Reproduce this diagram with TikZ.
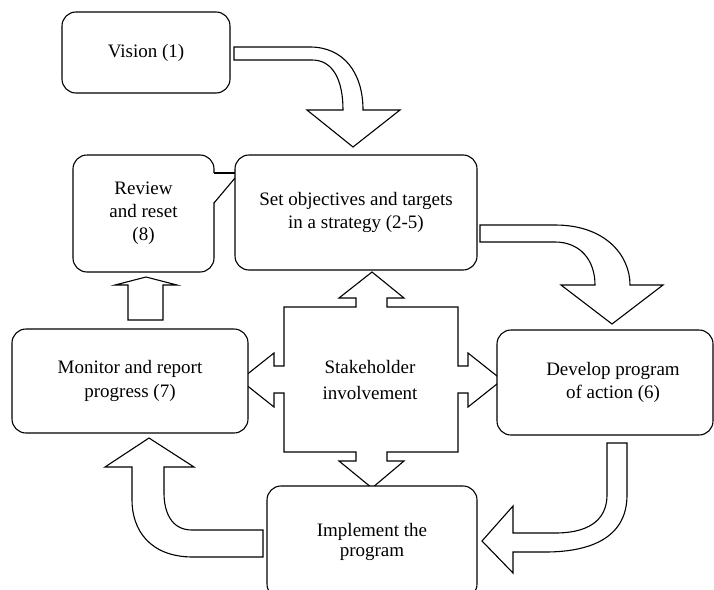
\documentclass[tikz,border=0pt]{standalone}
\usepackage{fontspec}
\setmainfont{Liberation Serif}
\begin{document}
\begin{tikzpicture}[x=1pt,y=-1pt,
  box/.style={draw,fill=white,rounded corners=14pt,line width=1.1pt,inner sep=0pt,align=center,font=\fontsize{19}{23}\selectfont},
  fat/.style={draw,fill=white,line width=1.1pt,line join=miter},
  lbl/.style={align=center,inner sep=0pt,font=\fontsize{19}{26}\selectfont}]
\useasboundingbox (0,0) rectangle (714,589);

% central cross
\draw[fat] (284,307) -- (356,307) -- (356,298) -- (339,298) -- (372,272) -- (404,298) -- (387,298) -- (387,307)
  -- (458,307) -- (458,366) -- (468,366) -- (468,353) -- (502,380) -- (468,407) -- (468,393) -- (458,393)
  -- (458,452) -- (387,452) -- (387,461) -- (404,461) -- (372,488) -- (339,461) -- (356,461) -- (356,452)
  -- (284,452) -- (284,393) -- (274,393) -- (274,407) -- (240,380) -- (274,353) -- (274,366) -- (284,366) -- cycle;
\node[lbl] (stake) at (370,380) {Stakeholder\\involvement};

% curved arrows
\draw[fat] (234,47) -- (310,47) .. controls (343,47) and (363,72) .. (363,110) -- (400,110) -- (353,147)
  -- (307,110) -- (343,110) .. controls (343,80) and (333,60) .. (312,60) -- (234,60) -- cycle;
\draw[fat] (480,225) -- (555,225) .. controls (605,225) and (630,255) .. (630,285) -- (663,285) -- (612,324)
  -- (561,285) -- (595,285) .. controls (595,260) and (580,242) .. (555,242) -- (480,242) -- cycle;
\draw[fat] (607,443) -- (627,443) -- (627,495) .. controls (627,535) and (595,552) .. (545,552) -- (513,552)
  -- (513,573) -- (482,541) -- (513,506) -- (513,533) -- (555,533) .. controls (595,533) and (607,515) .. (607,495) -- cycle;
\draw[fat] (263,530) -- (263,557) -- (193,557) .. controls (150,557) and (132,530) .. (132,500) -- (132,467)
  -- (105,467) -- (149,438) -- (194,467) -- (164,467) -- (164,493) .. controls (164,510) and (170,530) .. (192,530) -- cycle;
\draw[fat] (128,320) -- (128,285) -- (115,285) -- (146,277) -- (177,285) -- (163,285) -- (163,320) -- cycle;

% boxes
\node[box,minimum width=168pt,minimum height=81pt] (vision) at (146,52.5) {Vision (1)};
\node[box,minimum width=141pt,minimum height=117pt] (review) at (143.5,213.5) {Review\\and reset\\(8)};
\fill[white] (213,173) -- (235,173) -- (235,178) -- (213,203) -- cycle;
\draw[line width=1.1pt] (214,173) -- (235,173);
\draw[line width=1.1pt] (235,178) -- (214,203);
\node[box,minimum width=242pt,minimum height=115pt] (set) at (356,212.5) {Set objectives and targets\\in a strategy (2-5)};
\node[box,minimum width=236pt,minimum height=104pt,font=\fontsize{19}{24}\selectfont] (monitor) at (130,381) {Monitor and report\\progress (7)};
\node[box,minimum width=216pt,minimum height=105pt] (develop) at (605,382.5) {\hspace*{16pt}Develop program\\\hspace*{16pt}of action (6)};
\node[box,minimum width=210pt,minimum height=112pt,font=\fontsize{19}{20}\selectfont] (implement) at (372,542) {Implement the\\program};
\end{tikzpicture}
\end{document}
